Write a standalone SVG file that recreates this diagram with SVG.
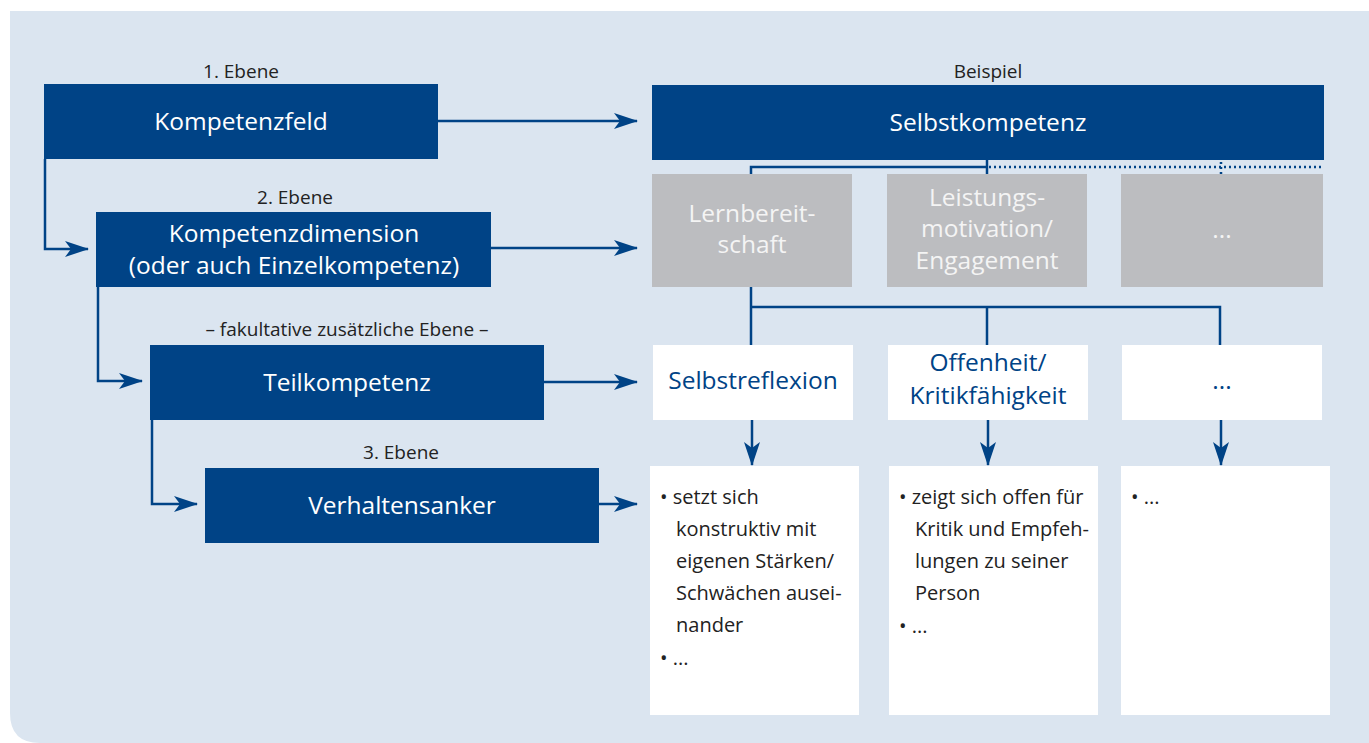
<svg xmlns="http://www.w3.org/2000/svg" width="1369" height="743" viewBox="0 0 1369 743">
<style>
text{font-family:"Open Sans","Noto Sans","Liberation Sans",sans-serif}
.bb{fill:#004386}
.gb{fill:#bcbdc0}
.wb{fill:#ffffff}
.tw{fill:#ffffff;font-size:24.5px;text-anchor:middle}
.tg{fill:#f4f4f4;font-size:24.5px;text-anchor:middle}
.tb{fill:#004386;font-size:24.5px;text-anchor:middle}
.tl{fill:#222222;font-size:19px;text-anchor:middle}
.tt{fill:#222222;font-size:20px}
.ln{fill:none;stroke:#004386;stroke-width:2.5}
.dt{fill:none;stroke:#004386;stroke-width:2.5;stroke-dasharray:2 3}
</style>
<defs>
<marker id="ah" viewBox="0 0 24 16" refX="23" refY="8" markerWidth="24" markerHeight="16" markerUnits="userSpaceOnUse" orient="auto">
<path d="M0,0 L24,8 L0,16 L6,8 Z" fill="#004386"/>
</marker>
</defs>
<path d="M10,11 H1369 V743 H40 Q10,743 10,713 Z" fill="#dbe5f0"/>

<g id="labels">
<text class="tl" x="241" y="78">1. Ebene</text>
<text class="tl" x="295" y="204">2. Ebene</text>
<text class="tl" x="347" y="336">– fakultative zusätzliche Ebene –</text>
<text class="tl" x="401" y="459">3. Ebene</text>
<text class="tl" x="988" y="78">Beispiel</text>
</g>

<g id="connectors">
<path class="ln" d="M438,121 H637" marker-end="url(#ah)"/>
<path class="ln" d="M491,248 H637" marker-end="url(#ah)"/>
<path class="ln" d="M544,382 H637" marker-end="url(#ah)"/>
<path class="ln" d="M599,504 H637" marker-end="url(#ah)"/>
<path class="ln" d="M45,159 V249 H88" marker-end="url(#ah)"/>
<path class="ln" d="M98,287 V381 H142" marker-end="url(#ah)"/>
<path class="ln" d="M152,420 V504 H197" marker-end="url(#ah)"/>
<path class="ln" d="M987,160 V174 M987,167 H751 V174"/>
<path class="dt" d="M989,167 H1324 M1221,162 V174"/>
<path class="ln" d="M751,287 V345 M751,307 H1220 V345 M987,307 V345"/>
<path class="ln" d="M752,420 V465" marker-end="url(#ah)"/>
<path class="ln" d="M988,420 V465" marker-end="url(#ah)"/>
<path class="ln" d="M1221,420 V465" marker-end="url(#ah)"/>
</g>

<g id="kompetenzfeld">
<rect class="bb" x="44" y="84" width="394" height="75"/>
<text class="tw" x="241" y="130">Kompetenzfeld</text>
</g>
<g id="kompetenzdimension">
<rect class="bb" x="96" y="212" width="395" height="75"/>
<text class="tw" x="294" y="242">Kompetenzdimension</text>
<text class="tw" x="294" y="274">(oder auch Einzelkompetenz)</text>
</g>
<g id="teilkompetenz">
<rect class="bb" x="150" y="345" width="394" height="75"/>
<text class="tw" x="347" y="391">Teilkompetenz</text>
</g>
<g id="verhaltensanker">
<rect class="bb" x="205" y="468" width="394" height="75"/>
<text class="tw" x="402" y="514">Verhaltensanker</text>
</g>
<g id="selbstkompetenz">
<rect class="bb" x="652" y="85" width="672" height="75"/>
<text class="tw" x="988" y="131">Selbstkompetenz</text>
</g>

<g id="lernbereitschaft">
<rect class="gb" x="652" y="174" width="200" height="113"/>
<text class="tg" x="752" y="222">Lernbereit-</text>
<text class="tg" x="752" y="253">schaft</text>
</g>
<g id="leistungsmotivation">
<rect class="gb" x="887" y="174" width="200" height="113"/>
<text class="tg" x="987" y="206">Leistungs-</text>
<text class="tg" x="987" y="237">motivation/</text>
<text class="tg" x="987" y="269">Engagement</text>
</g>
<g id="gray-etc">
<rect class="gb" x="1121" y="174" width="202" height="113"/>
<text class="tg" x="1222" y="238">...</text>
</g>

<g id="selbstreflexion">
<rect class="wb" x="653" y="345" width="200" height="75"/>
<text class="tb" x="753" y="389">Selbstreflexion</text>
</g>
<g id="offenheit">
<rect class="wb" x="888" y="345" width="200" height="75"/>
<text class="tb" x="988" y="371">Offenheit/</text>
<text class="tb" x="988" y="404">Kritikfähigkeit</text>
</g>
<g id="white-etc">
<rect class="wb" x="1122" y="345" width="200" height="75"/>
<text class="tb" x="1222" y="389">...</text>
</g>

<g id="anker1">
<rect class="wb" x="650" y="466" width="209" height="249"/>
<text class="tt" x="660" y="504">• setzt sich</text>
<text class="tt" x="676" y="536">konstruktiv mit</text>
<text class="tt" x="676" y="568">eigenen Stärken/</text>
<text class="tt" x="676" y="600">Schwächen ausei-</text>
<text class="tt" x="676" y="632">nander</text>
<text class="tt" x="660" y="665">• ...</text>
</g>
<g id="anker2">
<rect class="wb" x="889" y="466" width="209" height="249"/>
<text class="tt" x="899" y="504">• zeigt sich offen für</text>
<text class="tt" x="915" y="536">Kritik und Empfeh-</text>
<text class="tt" x="915" y="568">lungen zu seiner</text>
<text class="tt" x="915" y="600">Person</text>
<text class="tt" x="899" y="633">• ...</text>
</g>
<g id="anker3">
<rect class="wb" x="1121" y="466" width="209" height="249"/>
<text class="tt" x="1131" y="504">• ...</text>
</g>
</svg>
